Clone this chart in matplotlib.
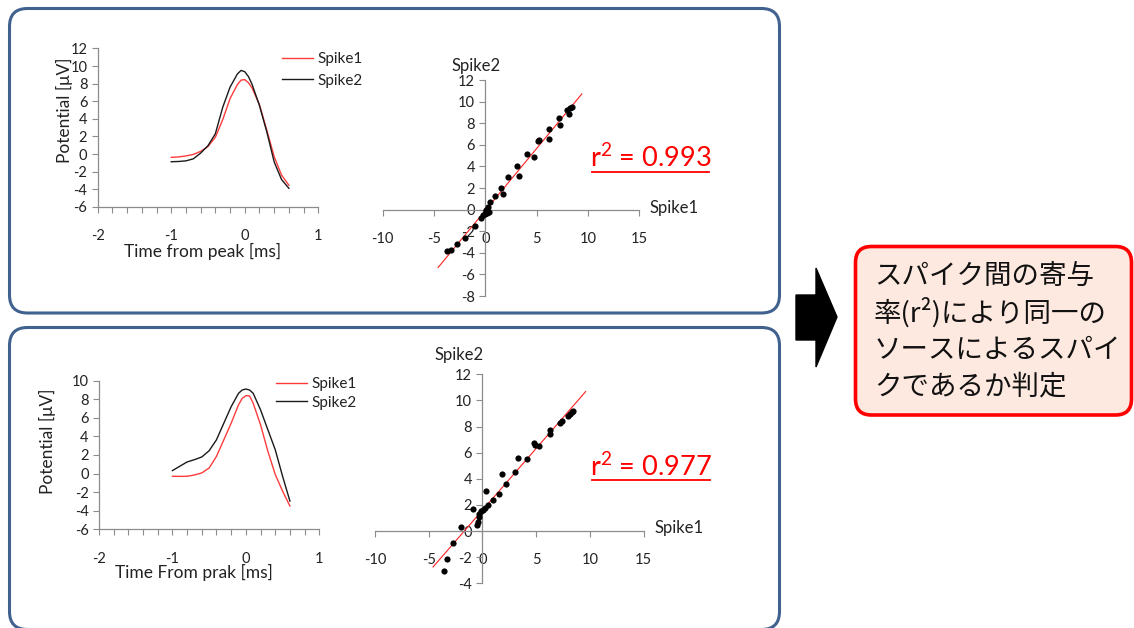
import numpy as np
import matplotlib
matplotlib.use('Agg')
import matplotlib.pyplot as plt
from matplotlib.patches import FancyBboxPatch, Polygon

plt.rcParams['font.family'] = ['Lato', 'DejaVu Sans']
plt.rcParams['mathtext.fontset'] = 'custom'
plt.rcParams['mathtext.rm'] = 'Lato'
plt.rcParams['axes.unicode_minus'] = False

# waveform data (time from peak in ms, potential in uV)
t_ms = [-1.0, -0.9, -0.8, -0.7, -0.6, -0.5, -0.4, -0.3, -0.2, -0.1, -0.05,
        0.0, 0.05, 0.1, 0.2, 0.3, 0.4, 0.5, 0.6]
top_spike1 = [-0.38, -0.33, -0.22, -0.05, 0.3, 0.85, 1.9, 3.9, 6.3, 7.9, 8.4,
              8.45, 8.1, 7.5, 5.6, 2.7, -0.3, -2.4, -3.55]
top_spike2 = [-0.88, -0.85, -0.78, -0.55, 0.1, 0.95, 2.3, 5.3, 7.6, 9.1, 9.5,
              9.35, 8.8, 7.9, 5.5, 2.5, -0.9, -2.9, -3.9]
bot_spike1 = [-0.29, -0.3, -0.29, -0.15, 0.07, 0.6, 1.86, 3.64, 5.43, 7.4, 8.1,
              8.39, 8.36, 7.57, 5.25, 2.39, -0.1, -1.89, -3.5]
bot_spike2 = [0.32, 0.79, 1.25, 1.5, 1.79, 2.46, 3.64, 5.43, 7.21, 8.64, 9.0,
              9.1, 9.0, 8.64, 6.86, 4.71, 2.57, -0.29, -2.96]

# scatter data (Spike1 vs Spike2)
top_x = [-3.70, -3.38, -2.76, -2.01, -0.97, -0.45, -0.23, -0.06, 0.06, 0.10, 0.19,
         0.26, 0.32, 0.49, 0.91, 1.56, 1.72, 2.21, 3.05, 3.31, 4.09, 4.77, 5.13,
         5.23, 6.20, 6.20, 7.14, 7.31, 7.99, 8.12, 8.28, 8.41]
top_y = [-3.87, -3.72, -3.22, -2.60, -1.52, -0.77, -0.53, -0.37, 0.0, -0.12, -0.31,
         0.25, -0.22, 0.71, 1.27, 2.04, 1.42, 3.00, 4.06, 3.13, 5.14, 4.83, 6.38,
         6.44, 7.46, 6.53, 8.51, 7.86, 9.20, 8.85, 9.38, 9.50]
bot_x = [-3.57, -3.26, -2.70, -2.02, -0.90, -0.47, -0.43, -0.37, -0.28, -0.16, 0.03,
         0.19, 0.34, 0.50, 0.96, 1.52, 1.83, 2.20, 3.04, 3.35, 4.13, 4.81, 4.91,
         5.22, 6.24, 6.30, 7.24, 7.42, 7.92, 8.11, 8.29, 8.45]
bot_y = [-3.09, -2.12, -0.92, 0.31, 1.71, 0.43, 0.69, 1.07, 1.33, 1.53, 1.63,
         1.76, 3.04, 1.96, 2.35, 2.86, 4.39, 3.62, 4.52, 5.61, 5.54, 6.73, 6.56,
         6.48, 7.70, 7.40, 8.29, 8.39, 8.78, 8.93, 9.11, 9.18]
top_fit_range = [-4.6, 9.4]
bot_fit_range = [-4.6, 9.6]
top_r2 = '0.993'
bot_r2 = '0.977'

note_lines = ['スパイク間の寄与', '率(r²)により同一の', 'ソースによるスパイ', 'クであるか判定']

W, H = 1134, 628
fig = plt.figure(figsize=(W / 100, H / 100), dpi=100)
fig.patch.set_facecolor('white')

# background layer in pixel coordinates
bg = fig.add_axes([0, 0, 1, 1], zorder=0)
bg.set_xlim(0, W)
bg.set_ylim(H, 0)
bg.axis('off')
panel_col = '#41628F'
bg.add_patch(FancyBboxPatch((9.5, 8.5), 770, 304.5, boxstyle='round,pad=0,rounding_size=18',
                            ec=panel_col, fc='white', lw=2.2))
bg.add_patch(FancyBboxPatch((9.5, 327.5), 770, 302, boxstyle='round,pad=0,rounding_size=18',
                            ec=panel_col, fc='white', lw=2.2))
bg.add_patch(Polygon([(796, 295), (816, 295), (816, 268), (837, 317), (816, 367),
                      (816, 340), (796, 340)], closed=True, fc='black', ec='black'))
bg.add_patch(FancyBboxPatch((855.5, 246.5), 276, 168.5, boxstyle='round,pad=0,rounding_size=16',
                            ec='#FF0000', fc='#FDE9DF', lw=2.6))
for i, line in enumerate(note_lines):
    bg.text(874, 276 + i * 37, line, fontsize=19.8, va='center', ha='left', color='#111111',
            family=['Noto Sans CJK JP', 'DejaVu Sans'])

axis_col = '#8C8C8C'
txt_col = '#222222'


def px_axes(l, t, r, b):
    ax = fig.add_axes([l / W, 1 - b / H, (r - l) / W, (b - t) / H], zorder=1)
    ax.patch.set_alpha(0)
    return ax


def style_axes(ax):
    for s in ['top', 'right']:
        ax.spines[s].set_visible(False)
    for s in ['left', 'bottom']:
        ax.spines[s].set_color(axis_col)
        ax.spines[s].set_linewidth(0.9)
    ax.tick_params(colors=axis_col, labelcolor=txt_col, labelsize=10.5, length=4, width=0.8)
    ax.tick_params(axis='x', pad=12)


def wave_panel(box, y1, y2, ymin, ymax, xlabel, xlab_pos, ylab_pos, leg_pos, leg_space):
    ax = px_axes(*box)
    ax.plot(t_ms, y1, color='#FF3B3B', lw=1.0, label='Spike1')
    ax.plot(t_ms, y2, color='#1A1A1A', lw=1.0, label='Spike2')
    ax.set_xlim(-2, 1)
    ax.set_ylim(ymin, ymax)
    ax.set_xticks(np.arange(-2, 1.01, 0.2))
    ax.set_xticklabels(['%d' % round(v) if abs(v - round(v)) < 1e-6 else '' for v in np.arange(-2, 1.01, 0.2)])
    ax.set_yticks(np.arange(ymin, ymax + 1, 2))
    style_axes(ax)
    fig.text(xlab_pos[0] / W, 1 - xlab_pos[1] / H, xlabel, ha='center', va='center',
             fontsize=12.5, color=txt_col)
    fig.text(ylab_pos[0] / W, 1 - ylab_pos[1] / H, 'Potential [μV]', ha='center', va='center',
             rotation=90, fontsize=12.5, color=txt_col)
    ax.legend(loc='upper left', bbox_to_anchor=(leg_pos[0] / W, 1 - leg_pos[1] / H),
              bbox_transform=fig.transFigure, frameon=False, fontsize=11, borderpad=0,
              borderaxespad=0, handlelength=2.0, handletextpad=0.3, labelspacing=leg_space,
              labelcolor=txt_col)
    return ax


def scatter_panel(box, xs, ys, fit_range, ymin, ymax, r2, s1_pos, s2_pos, r2_pos, r2_line):
    ax = px_axes(*box)
    ax.scatter(xs, ys, s=20, color='black', zorder=3, linewidths=0)
    k, c = np.polyfit(xs, ys, 1)
    fx = np.array(fit_range)
    ax.plot(fx, k * fx + c, color='#FF2020', lw=0.8, zorder=2)
    ax.set_xlim(-10, 15)
    ax.set_ylim(ymin, ymax)
    ax.set_xticks([-10, -5, 0, 5, 10, 15])
    ax.set_yticks(np.arange(ymin, ymax + 1, 2))
    ax.spines['left'].set_position(('data', 0))
    ax.spines['bottom'].set_position(('data', 0))
    style_axes(ax)
    fig.text(s1_pos[0] / W, 1 - s1_pos[1] / H, 'Spike1', ha='center', va='center',
             fontsize=12, color=txt_col)
    fig.text(s2_pos[0] / W, 1 - s2_pos[1] / H, 'Spike2', ha='center', va='center',
             fontsize=12, color=txt_col)
    fig.text(r2_pos[0] / W, 1 - r2_pos[1] / H, r'r$^\mathregular{2}$ = ' + r2, ha='center',
             va='center', fontsize=19.5, color='#FF0000')
    bg.plot(r2_line[0], r2_line[1], color='#FF0000', lw=1.3)
    return ax


wave_panel((97.7, 48.4, 318.3, 206.8), top_spike1, top_spike2, -6, 12,
           'Time from peak [ms]', (203, 251), (64, 110), (282, 52), 0.5)
wave_panel((99, 380.7, 319.3, 529.3), bot_spike1, bot_spike2, -6, 10,
           'Time From prak [ms]', (194, 572), (47, 441), (276, 377), 0.3)
scatter_panel((382.7, 80, 639.3, 296), top_x, top_y, top_fit_range, -8, 12, top_r2,
              (674, 208), (476, 66), (651, 158), ([592, 709], [171.5, 171.5]))
scatter_panel((375, 374.3, 643.7, 583.3), bot_x, bot_y, bot_fit_range, -4, 12, bot_r2,
              (679, 528), (459, 355), (651, 467), ([592, 710], [480, 480]))

fig.savefig('out.png', dpi=100)
